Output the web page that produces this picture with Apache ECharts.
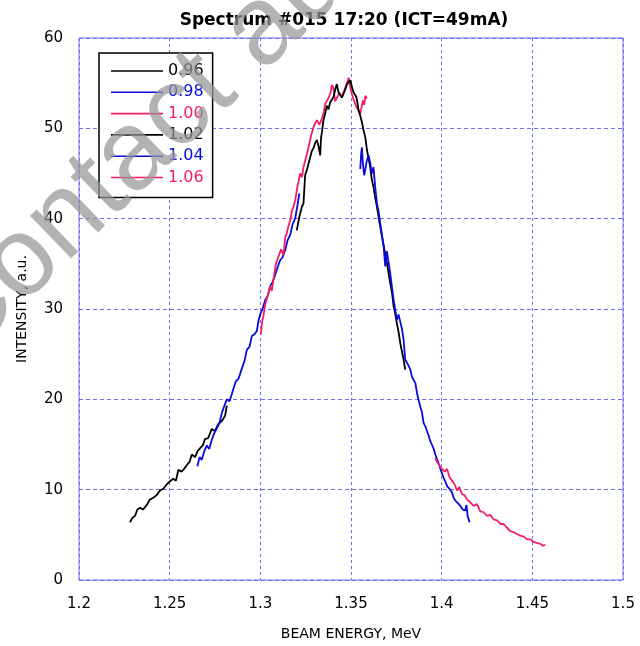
<!DOCTYPE html>
<html>
<head>
<meta charset="utf-8">
<script src="https://cdn.jsdelivr.net/npm/echarts@6/dist/echarts.min.js"></script>
<style>
  html, body { margin: 0; padding: 0; background: #fff; }
  #chart { width: 640px; height: 646px; }
</style>
</head>
<body>
<div id="chart"></div>
<script>
// spectrum #015, six magnet settings
var scanNames = ['0.96', '0.98', '1.00', '1.02', '1.04', '1.06'];
var scanColors = ['#000000', '#0a0ae0', '#f41e66', '#000000', '#0a0ae0', '#f41e66'];

var energy096 = [1.2281,1.2295,1.2309,1.2322,1.2337,1.2352,1.2374,1.2390,1.2410,1.2428,1.2447,1.2465,1.2484,1.2500,1.2520,1.2535,1.2548,1.2565,1.2580,1.2594,1.2610,1.2622,1.2640,1.2655,1.2668,1.2683,1.2695,1.2712,1.2732,1.2750,1.2769,1.2788,1.2806,1.2815];
var intensity096 = [6.4,6.9,7.1,7.8,8.0,7.8,8.3,8.9,9.1,9.4,9.9,10.1,10.6,10.9,11.2,11.0,12.2,12.0,12.3,12.7,13.1,13.9,13.6,14.3,14.6,14.9,15.6,15.7,16.7,16.5,17.3,17.6,18.2,19.3];

var energy098 = [1.2653,1.2665,1.2677,1.2690,1.2705,1.2718,1.2732,1.2745,1.2760,1.2775,1.2788,1.2800,1.2815,1.2830,1.2843,1.2852,1.2865,1.2880,1.2898,1.2912,1.2926,1.2940,1.2953,1.2968,1.2981,1.2990,1.2999,1.3012,1.3027,1.3040,1.3054,1.3068,1.3082,1.3095,1.3109,1.3122,1.3137,1.3150,1.3165,1.3178,1.3192,1.3205,1.3215];
var intensity098 = [12.6,13.6,13.3,14.2,14.9,14.5,15.5,16.2,16.8,17.4,18.5,19.2,20.0,19.8,20.6,21.2,22.0,22.3,23.4,24.2,25.5,25.8,27.0,27.2,27.6,28.7,29.4,30.0,31.0,31.4,32.5,33.0,33.8,34.6,35.4,35.7,36.5,37.6,38.2,39.4,40.0,41.5,42.8];

var energy100 = [1.3003,1.3010,1.3017,1.3027,1.3036,1.3045,1.3054,1.3063,1.3072,1.3086,1.3100,1.3114,1.3128,1.3137,1.3146,1.3155,1.3165,1.3174,1.3183,1.3192,1.3205,1.3220,1.3230,1.3238,1.3252,1.3266,1.3280,1.3293,1.3303,1.3312,1.3326,1.3340,1.3350,1.3358,1.3372,1.3385,1.3395,1.3404,1.3412,1.3422,1.3436,1.3450,1.3460,1.3468,1.3478,1.3487,1.3496,1.3505,1.3514,1.3523,1.3532,1.3542,1.3551,1.3559,1.3566,1.3573,1.3579,1.3588];
var intensity100 = [27.2,28.6,29.2,30.5,30.3,31.8,32.5,32.0,33.2,35.0,35.8,36.6,36.0,37.9,38.4,39.2,39.8,40.9,41.3,42.0,43.6,45.0,44.6,45.7,46.8,47.9,49.2,50.1,50.6,50.9,50.4,51.1,51.8,52.7,53.2,53.8,54.8,54.4,53.0,53.1,53.9,53.5,54.0,54.2,55.0,55.6,54.6,53.8,53.2,52.7,52.3,52.5,51.6,52.4,53.1,52.6,53.6,53.3];

var energy102 = [1.3201,1.3215,1.3229,1.3238,1.3247,1.3257,1.3266,1.3275,1.3284,1.3293,1.3303,1.3312,1.3321,1.3330,1.3335,1.3340,1.3348,1.3357,1.3367,1.3376,1.3385,1.3395,1.3404,1.3413,1.3422,1.3431,1.3440,1.3450,1.3459,1.3468,1.3478,1.3487,1.3496,1.3505,1.3514,1.3522,1.3529,1.3535,1.3542,1.3551,1.3560,1.3569,1.3579,1.3588,1.3597,1.3606,1.3615,1.3624,1.3633,1.3643,1.3657,1.3671,1.3685,1.3698,1.3707,1.3716,1.3726,1.3735,1.3744,1.3753,1.3762,1.3772,1.3781,1.3790,1.3799];
var intensity102 = [38.7,40.2,41.3,41.7,44.8,45.4,46.1,46.8,47.5,47.8,48.4,48.7,48.0,47.0,49.0,49.6,50.9,51.6,52.5,52.1,52.9,53.2,53.5,54.3,54.9,54.0,54.2,53.4,53.5,54.3,54.9,55.0,55.3,54.6,54.0,53.9,53.5,52.9,52.0,51.4,50.7,49.8,49.0,47.6,47.8,45.7,44.3,43.5,42.4,41.3,39.6,38.0,36.5,35.1,34.0,32.9,31.8,30.3,29.5,28.4,27.5,26.2,25.3,24.4,23.3];

var energy104 = [1.3551,1.3556,1.3560,1.3566,1.3573,1.3580,1.3588,1.3597,1.3606,1.3615,1.3624,1.3633,1.3643,1.3652,1.3661,1.3670,1.3680,1.3689,1.3698,1.3707,1.3716,1.3726,1.3735,1.3744,1.3753,1.3762,1.3772,1.3781,1.3790,1.3799,1.3810,1.3818,1.3827,1.3836,1.3845,1.3855,1.3864,1.3873,1.3882,1.3891,1.3900,1.3910,1.3919,1.3928,1.3937,1.3946,1.3956,1.3965,1.3974,1.3983,1.3993,1.4002,1.4011,1.4020,1.4030,1.4043,1.4057,1.4066,1.4075,1.4089,1.4103,1.4116,1.4130,1.4137,1.4143,1.4154];
var intensity104 = [45.5,47.2,47.9,46.0,44.8,45.6,46.5,47.0,46.2,45.0,45.7,43.6,41.7,40.8,39.5,38.3,36.9,34.7,36.4,35.2,34.0,32.4,31.0,29.9,28.8,29.4,29.2,27.8,26.6,24.4,24.0,23.7,23.3,22.5,22.5,21.8,20.7,19.9,19.2,18.6,17.4,17.0,16.5,16.0,15.4,15.0,14.5,13.9,13.4,12.9,12.3,11.8,11.3,10.9,10.4,10.1,9.7,9.1,8.8,8.5,8.2,7.8,7.7,8.3,7.1,6.4];

var energy106 = [1.3965,1.3974,1.3983,1.3993,1.4002,1.4016,1.4030,1.4043,1.4057,1.4071,1.4085,1.4098,1.4112,1.4126,1.4140,1.4158,1.4176,1.4195,1.4213,1.4231,1.4250,1.4268,1.4287,1.4305,1.4324,1.4342,1.4360,1.4378,1.4397,1.4415,1.4434,1.4452,1.4471,1.4490,1.4508,1.4526,1.4545,1.4558,1.4572];
var intensity106 = [13.5,13.1,13.0,12.5,12.6,12.0,12.3,11.4,11.0,10.6,9.9,10.3,9.5,9.4,8.9,8.6,8.2,8.4,7.6,7.5,7.1,7.2,6.7,6.6,6.2,6.2,5.8,5.4,5.3,5.1,4.9,4.8,4.5,4.5,4.2,4.1,4.0,3.8,3.9];

var scanEnergy = [energy096, energy098, energy100, energy102, energy104, energy106];
var scanIntensity = [intensity096, intensity098, intensity100, intensity102, intensity104, intensity106];

var gridBlue = '#6e6ef0';
var chartFont = 'DejaVu Sans';

function pairs(xs, ys) {
    var out = [];
    for (var i = 0; i < xs.length; i++) {
        out.push([xs[i], ys[i]]);
    }
    return out;
}

var seriesList = [];
var legendData = [];
for (var k = 0; k < scanNames.length; k++) {
    seriesList.push({
        name: scanNames[k],
        type: 'line',
        symbol: 'none',
        animation: false,
        lineStyle: { color: scanColors[k], width: 1.8 },
        itemStyle: { color: scanColors[k] },
        data: pairs(scanEnergy[k], scanIntensity[k])
    });
    legendData.push({ name: scanNames[k], textStyle: { color: scanColors[k] } });
}

var myChart = echarts.init(document.getElementById('chart'));

var option = {
    animation: false,
    backgroundColor: '#ffffff',
    title: {
        text: 'Spectrum #015 17:20 (ICT=49mA)',
        left: 339,
        top: 7,
        textAlign: 'center',
        textStyle: { fontFamily: chartFont, fontSize: 17, fontWeight: 'bold', color: '#000' }
    },
    grid: {
        left: 79,
        right: 17,
        top: 38,
        bottom: 65,
        show: true,
        borderColor: gridBlue,
        borderWidth: 1
    },
    legend: {
        orient: 'vertical',
        left: 99,
        top: 53,
        padding: [10, 9, 12, 12],
        icon: 'rect',
        itemWidth: 52,
        itemHeight: 1.6,
        itemGap: 5.3,
        backgroundColor: '#ffffff',
        borderColor: '#000',
        borderWidth: 1.5,
        borderRadius: 0,
        textStyle: { fontFamily: chartFont, fontSize: 16, lineHeight: 16 },
        data: legendData
    },
    xAxis: {
        type: 'value',
        min: 1.2,
        max: 1.5,
        interval: 0.05,
        name: 'BEAM ENERGY, MeV',
        nameLocation: 'middle',
        nameGap: 47,
        nameTextStyle: { fontFamily: chartFont, fontSize: 14, color: '#000' },
        axisLine: { show: false },
        axisTick: { show: false },
        axisLabel: { fontFamily: chartFont, fontSize: 15, color: '#000', margin: 17 },
        splitLine: { show: true, lineStyle: { color: gridBlue, type: [3, 3], width: 1 } }
    },
    yAxis: {
        type: 'value',
        min: 0,
        max: 60,
        interval: 10,
        name: 'INTENSITY, a.u.',
        nameLocation: 'middle',
        nameGap: 50,
        nameTextStyle: { fontFamily: chartFont, fontSize: 14, color: '#000' },
        axisLine: { show: false },
        axisTick: { show: false },
        axisLabel: { fontFamily: chartFont, fontSize: 15, color: '#000', margin: 16 },
        splitLine: { show: true, lineStyle: { color: gridBlue, type: [4, 3], width: 1 } }
    },
    graphic: [
        {
            type: 'text',
            x: -59,
            y: 341,
            rotation: 44 * Math.PI / 180,
            z: 100,
            silent: true,
            style: {
                text: 'Contact author',
                font: '112px "Liberation Sans"',
                fill: 'rgba(150,150,150,0.72)',
                verticalAlign: 'middle'
            }
        }
    ],
    series: seriesList
};

myChart.setOption(option);
</script>
</body>
</html>
